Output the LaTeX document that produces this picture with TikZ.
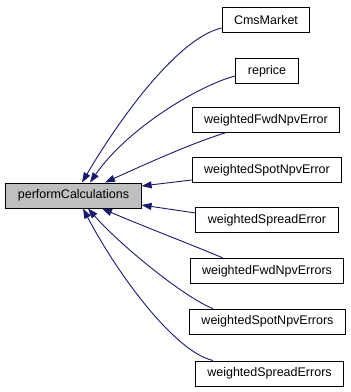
\documentclass[tikz,border=0pt]{standalone}
\usepackage{fontspec}
\setmainfont{Liberation Sans}
\usetikzlibrary{arrows.meta}

\definecolor{edgeblue}{RGB}{25,25,112}
\definecolor{callgrey}{RGB}{191,191,191}

\begin{document}
\begin{tikzpicture}[
  x=1pt, y=-1pt,
  fn/.style={rectangle, draw=black, line width=1pt, fill=white, minimum height=25pt,
             inner xsep=12pt, font=\fontsize{12.5}{15}\selectfont},
  focus/.style={fn, fill=callgrey},
  call/.style={-{Triangle[length=10pt, width=7pt]}, draw=edgeblue, line width=0.9pt}
]
\useasboundingbox (0,0) rectangle (351,392);

% The function itself
\node[focus] (perform) at (73.5,195.5) {performCalculations};

% Its callers, one column on the right
\node[fn] (cms)     at (266,20)    {CmsMarket};
\node[fn] (reprice) at (267,71)    {reprice};
\node[fn] (fwd)     at (266,120)   {weightedFwdNpvError};
\node[fn] (spot)    at (267,170)   {weightedSpotNpvError};
\node[fn] (spread)  at (267,220)   {weightedSpreadError};
\node[fn] (fwds)    at (267,271)   {weightedFwdNpvErrors};
\node[fn] (spots)   at (267.5,321.5) {weightedSpotNpvErrors};
\node[fn] (spreads) at (269.5,373.5) {weightedSpreadErrors};

% Call edges, tips on the function box
\draw[call] ([yshift=-8pt]cms.west) .. controls (178,38) and (120,118) .. ([xshift=8.5pt]perform.north);
\draw[call] ([yshift=-5pt]reprice.west) .. controls (205,83) and (130,125) .. ([xshift=16.5pt]perform.north);
\draw[call] ([xshift=-41pt]fwd.south) .. controls (195,142) and (150,162) .. ([xshift=31.5pt]perform.north);
\draw[call] ([yshift=-10pt]spot.west) -- ([yshift=9.5pt]perform.east);
\draw[call] ([yshift=7pt]spread.west) -- ([yshift=-9.5pt]perform.east);
\draw[call] ([xshift=-44pt]fwds.north) .. controls (200,248) and (140,225) .. ([xshift=28.5pt]perform.south);
\draw[call] ([xshift=-54.5pt]spots.north) .. controls (185,298) and (120,245) .. ([xshift=14.5pt]perform.south);
\draw[call] ([xshift=-56.5pt]spreads.north) .. controls (175,352) and (118,275) .. ([xshift=9.5pt]perform.south);

\end{tikzpicture}
\end{document}
